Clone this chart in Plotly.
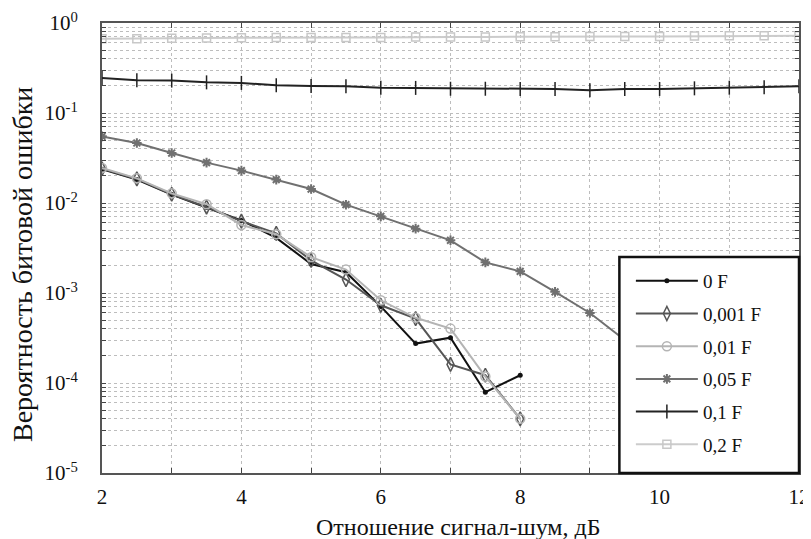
import plotly.graph_objects as go

# ---- data ----
snr_low = [2, 2.5, 3, 3.5, 4, 4.5, 5, 5.5, 6, 6.5, 7, 7.5, 8]
ber_0F = [0.0237, 0.0182, 0.0124, 0.0089, 0.0064, 0.0041, 0.0021, 0.0017,
          0.00071, 0.000274, 0.000319, 0.000079, 0.000122]
ber_0001F = [0.0240, 0.0185, 0.0125, 0.0090, 0.0063, 0.0046, 0.0023, 0.00141,
             0.00073, 0.00052, 0.000161, 0.000122, 0.000040]
ber_001F = [0.0245, 0.0188, 0.0128, 0.0097, 0.0057, 0.0045, 0.0025, 0.00182,
            0.00083, 0.00053, 0.000402, 0.000118, 0.000040]

snr_005 = [2, 2.5, 3, 3.5, 4, 4.5, 5, 5.5, 6, 6.5, 7, 7.5, 8, 8.5, 9, 9.5]
ber_005F = [0.0550, 0.0464, 0.0359, 0.0281, 0.0229, 0.0182, 0.0143, 0.00958,
            0.00711, 0.00519, 0.00385, 0.00219, 0.00174, 0.00103, 0.00060, 0.00030]

snr_full = [2, 2.5, 3, 3.5, 4, 4.5, 5, 5.5, 6, 6.5, 7, 7.5, 8, 8.5, 9, 9.5,
            10, 10.5, 11, 11.5, 12]
ber_01F = [0.245, 0.231, 0.229, 0.219, 0.216, 0.203, 0.200, 0.198, 0.191, 0.190,
           0.186, 0.186, 0.185, 0.185, 0.179, 0.185, 0.185, 0.188, 0.191, 0.193, 0.198]
ber_02F = [0.67, 0.67, 0.675, 0.68, 0.685, 0.69, 0.69, 0.69, 0.69, 0.70, 0.70,
           0.70, 0.705, 0.705, 0.71, 0.71, 0.71, 0.715, 0.72, 0.72, 0.72]

series_names = ["0 F", "0,001 F", "0,01 F", "0,05 F", "0,1 F", "0,2 F"]

x_tickvals = [2, 4, 6, 8, 10, 12]
decade_exps = [-5, -4, -3, -2, -1, 0]
y_ticktext_decades = ["10<sup>-5</sup>", "10<sup>-4</sup>", "10<sup>-3</sup>",
                      "10<sup>-2</sup>", "10<sup>-1</sup>", "10<sup>0</sup>"]
x_title = "Отношение сигнал-шум, дБ"
y_title = "Вероятность битовой ошибки"

# y ticks: every 1..9 x decade, labels only on decades
y_tickvals, y_ticktext = [], []
for e, lab in zip(decade_exps, y_ticktext_decades):
    y_tickvals.append(10.0 ** e)
    y_ticktext.append(lab)
    if e < 0:
        for m in range(2, 10):
            y_tickvals.append(m * 10.0 ** e)
            y_ticktext.append("")

FONT = "Liberation Serif, Times New Roman, serif"

fig = go.Figure()

styles = [
    (snr_low, ber_0F, "#111111", dict(symbol="circle", size=5, color="#111111")),
    (snr_low, ber_0001F, "#555555", dict(symbol="diamond-tall-open", size=10, color="#555555",
                                         line=dict(width=1.5, color="#555555"))),
    (snr_low, ber_001F, "#b4b4b4", dict(symbol="circle-open", size=9, color="#b4b4b4",
                                        line=dict(width=1.5, color="#b4b4b4"))),
    (snr_005, ber_005F, "#707070", dict(symbol="asterisk-open", size=8, color="#707070",
                                        line=dict(width=2, color="#707070"))),
    (snr_full, ber_01F, "#222222", dict(symbol="line-ns-open", size=10, color="#222222",
                                        line=dict(width=1.5, color="#222222"))),
    (snr_full, ber_02F, "#cccccc", dict(symbol="square-open", size=8, color="#c8c8c8",
                                        line=dict(width=1.5, color="#c8c8c8"))),
]

for i, (xs, ys, col, mk) in enumerate(styles):
    fig.add_trace(go.Scatter(
        x=xs, y=ys, mode="lines+markers", name=series_names[i],
        legendgroup=f"g{i}",
        line=dict(color=col, width=2),
        marker=mk,
    ))

# legend frame (white box with black border)
fig.add_shape(type="rect", xref="paper", yref="paper",
              x0=0.7423, x1=1.0, y0=0.0, y1=0.48,
              line=dict(color="#111111", width=2.5), fillcolor="white",
              layer="above")

# axis titles as annotations (exact placement)
fig.add_annotation(text=x_title, xref="paper", yref="paper",
                   x=0.512, y=-0.12, xanchor="center", yanchor="middle",
                   showarrow=False, font=dict(family=FONT, size=24, color="#111111"))
fig.add_annotation(text=y_title, xref="paper", yref="paper",
                   x=-0.1148, y=0.4644, xanchor="center", yanchor="middle",
                   textangle=-90,
                   showarrow=False, font=dict(family=FONT, size=28, color="#111111"))

grid_col = "#bdbdbd"
# the page body adds an 8px offset, so margins are reduced by 8px on left/top
fig.update_layout(
    width=811, height=539,
    margin=dict(l=94, r=20, t=15, b=74),
    paper_bgcolor="white", plot_bgcolor="white",
    font=dict(family=FONT, color="#111111", size=18),
    showlegend=True,
    legend=dict(
        x=0.7588, xanchor="left",
        y=0.469, yanchor="top",
        bgcolor="rgba(0,0,0,0)", borderwidth=0,
        font=dict(family=FONT, size=19, color="#111111"),
        itemwidth=62, tracegroupgap=5,
    ),
    xaxis=dict(
        range=[2, 12], tickvals=x_tickvals, automargin=False,
        showgrid=True, gridcolor=grid_col, griddash="dot", gridwidth=1,
        ticks="inside", ticklen=5, tickcolor="#444",
        showline=True, linecolor="#555555", linewidth=2, mirror="ticks",
        zeroline=False, ticklabelstandoff=4,
        tickfont=dict(family=FONT, size=21, color="#111111"),
        minor=dict(dtick=1, showgrid=True, gridcolor=grid_col, griddash="dot",
                   ticks="inside", ticklen=5, tickcolor="#444"),
    ),
    yaxis=dict(
        type="log", range=[-5, 0], automargin=False,
        tickvals=y_tickvals, ticktext=y_ticktext,
        showgrid=True, gridcolor=grid_col, griddash="dot", gridwidth=1,
        ticks="inside", ticklen=4, tickcolor="#444",
        showline=True, linecolor="#555555", linewidth=2, mirror="ticks",
        zeroline=False, ticklabelstandoff=18,
        tickfont=dict(family=FONT, size=21, color="#111111"),
    ),
)

fig.write_html("out.html")
